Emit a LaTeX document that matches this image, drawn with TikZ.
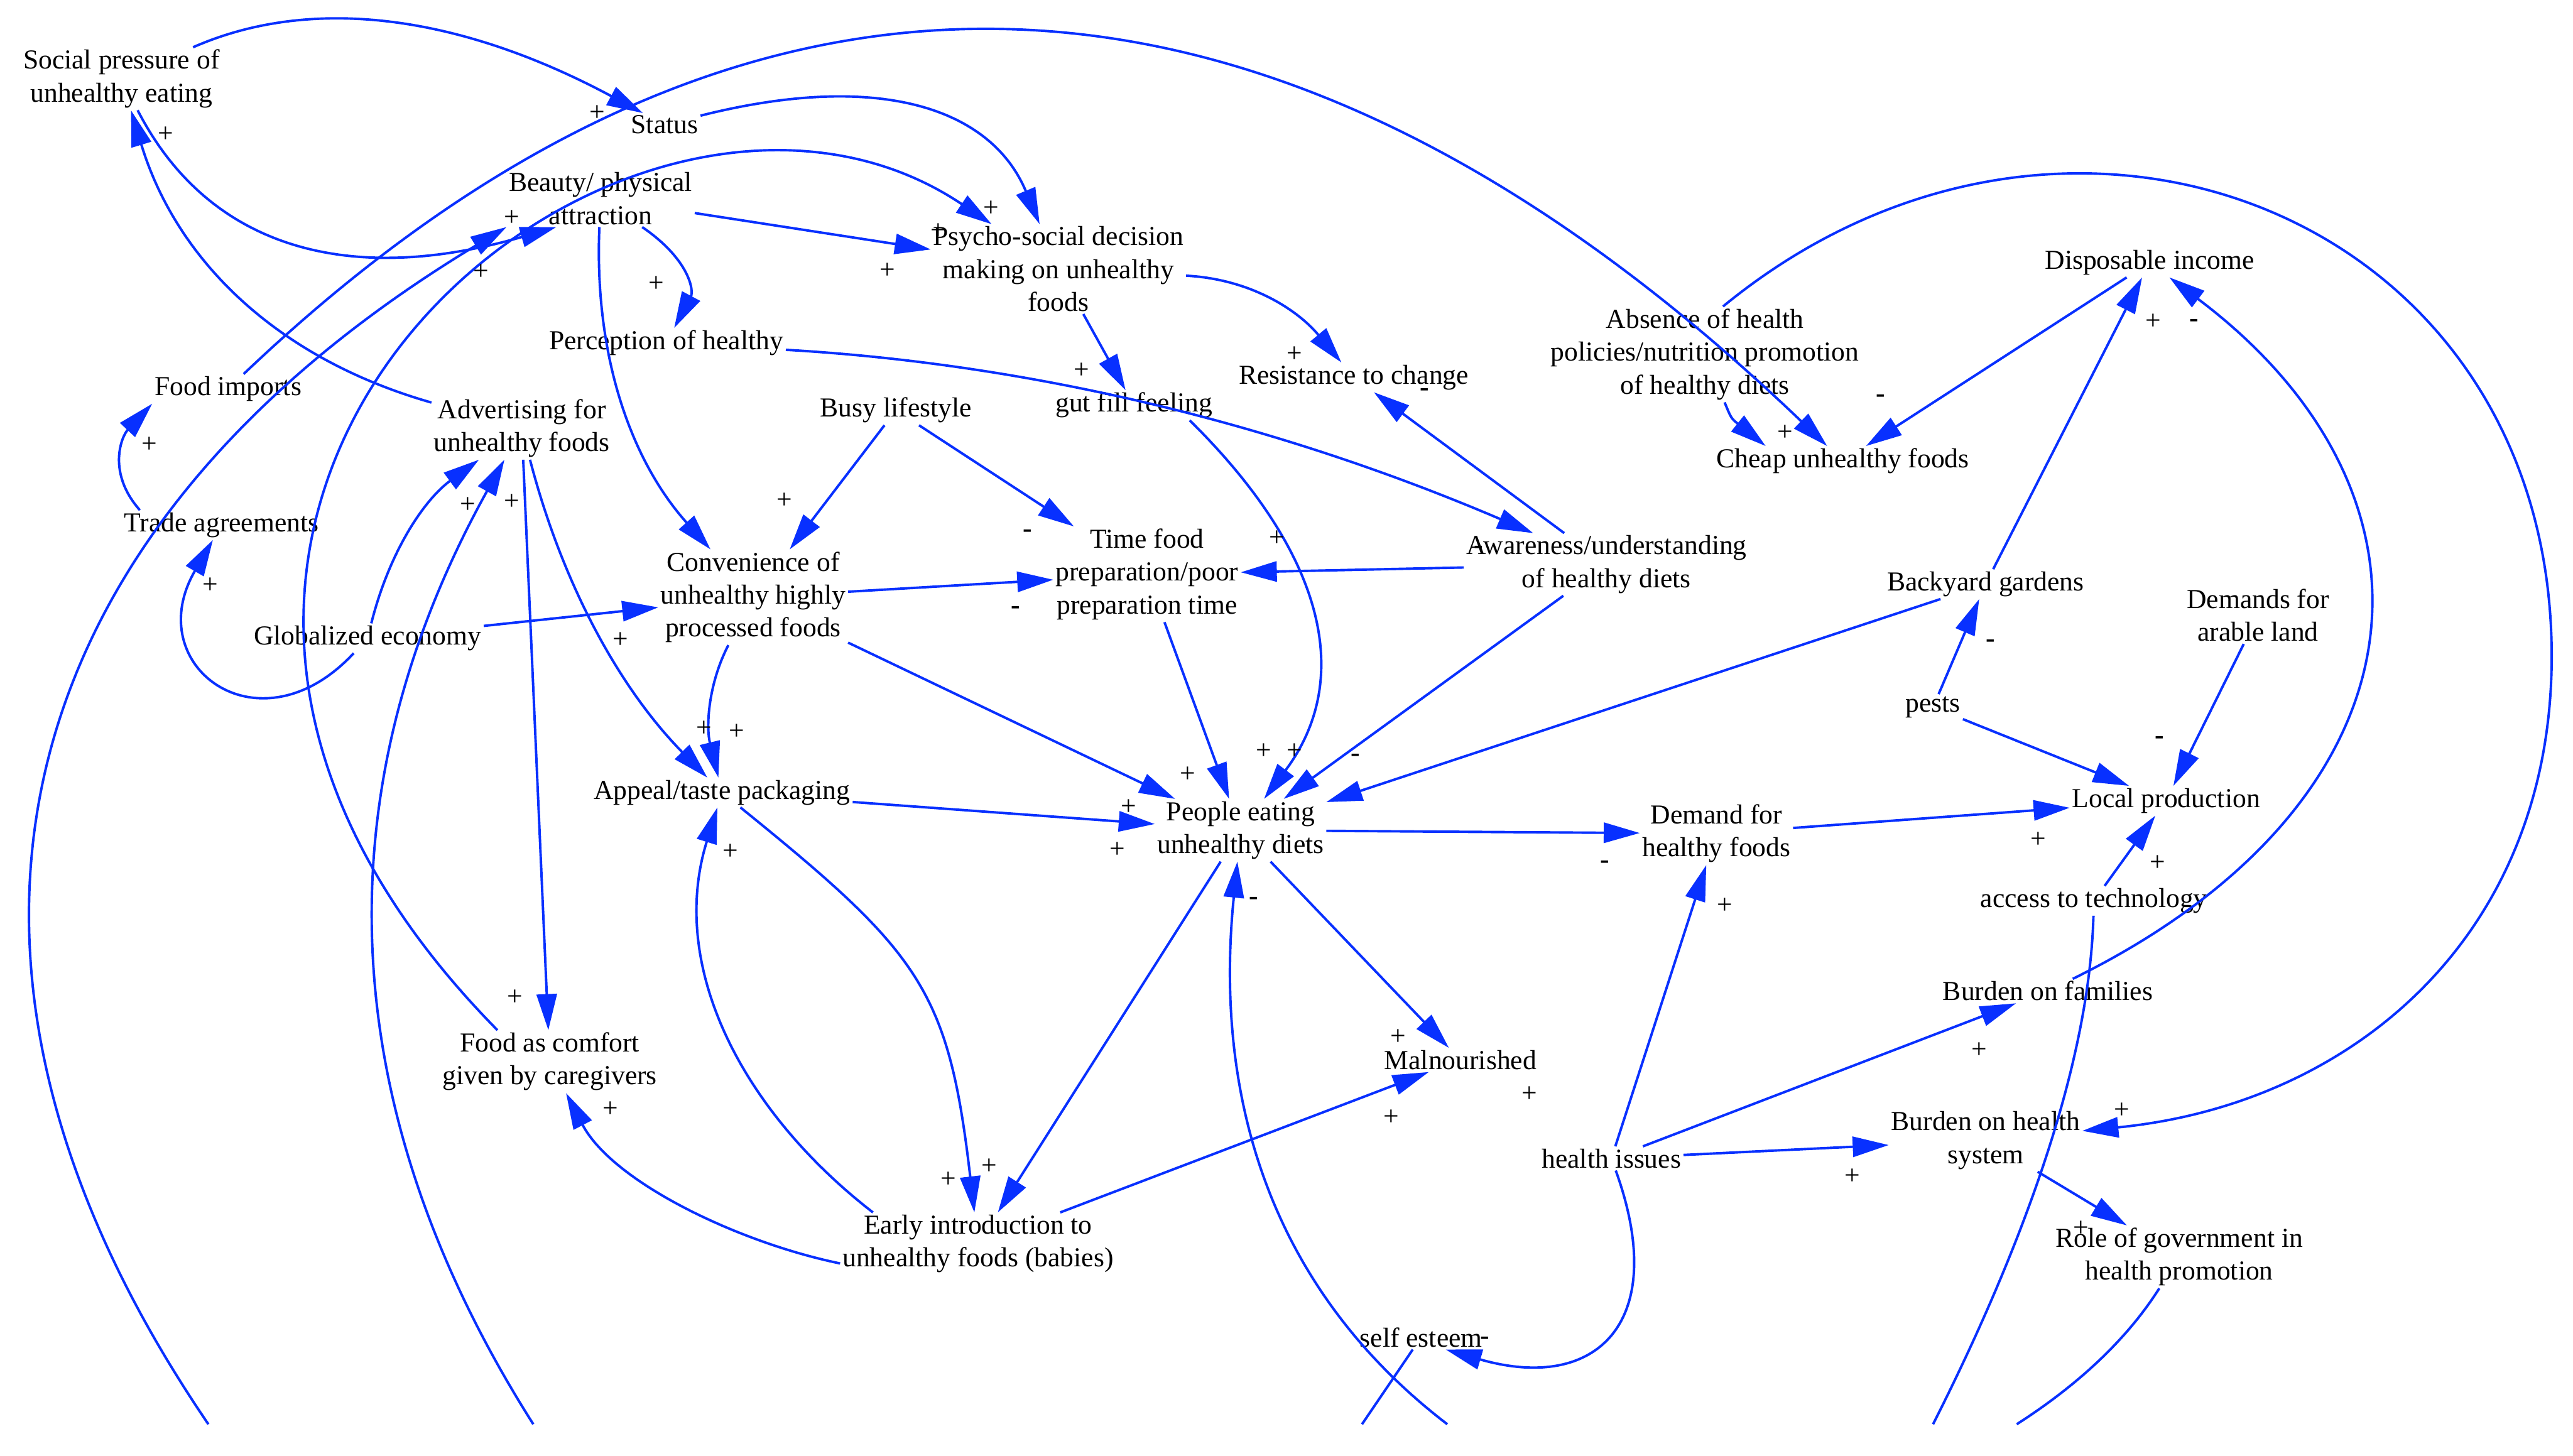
\documentclass[tikz,border=0pt]{standalone}
\usepackage{fontspec}
\setmainfont{Liberation Serif}
\usetikzlibrary{arrows.meta, calc}
\definecolor{linkblue}{RGB}{8,48,255}

\begin{document}
\begin{tikzpicture}[
    x=0.04cm,
    y=-0.04cm,
    font=\fontsize{19}{22.8}\selectfont,
    var/.style={
        align=center,
        inner sep=1.5pt
    },
    arr/.style={
        draw=linkblue,
        line width=1.7pt,
        -{Triangle[length=25pt,width=14pt]}
    },
    arrcut/.style={
        draw=linkblue,
        line width=1.7pt
    },
    sign/.style={
        inner sep=0pt
    }
]

\useasboundingbox (0,0) rectangle (1568,887);

\node[var] (sp) at (74,48) {Social pressure of\\unhealthy eating};
\node[var] (st) at (405,76) {Status};
\node[var] (bp) at (366,121) {Beauty/ physical\\attraction};
\node[var] (psd) at (645,164) {Psycho-social decision\\making on unhealthy\\foods};
\node[var] (ph) at (406,209) {Perception of healthy};
\node[var] (fi) at (139,237) {Food imports};
\node[var] (adv) at (318,261) {Advertising for\\unhealthy foods};
\node[var] (busy) at (546,250) {Busy lifestyle};
\node[var] (gut) at (691,247) {gut fill feeling};
\node[var] (rc) at (825,230) {Resistance to change};
\node[var] (abs) at (1039,216) {Absence of health\\policies/nutrition promotion\\of healthy diets};
\node[var] (di) at (1310,160) {Disposable income};
\node[var] (cuf) at (1123,281) {Cheap unhealthy foods};
\node[var] (ta) at (135,320) {Trade agreements};
\node[var] (conv) at (459,364) {Convenience of\\unhealthy highly\\processed foods};
\node[var] (tfp) at (699,350) {Time food\\preparation/poor\\preparation time};
\node[var] (aw) at (979,344) {Awareness/understanding\\of healthy diets};
\node[var] (bg) at (1210,356) {Backyard gardens};
\node[var] (dal) at (1376,375) {Demands for\\arable land};
\node[var] (ge) at (224,389) {Globalized economy};
\node[var] (pests) at (1178,431) {pests};
\node[var] (app) at (440,483) {Appeal/taste packaging};
\node[var] (peud) at (756,506) {People eating\\unhealthy diets};
\node[var] (dhf) at (1046,508) {Demand for\\healthy foods};
\node[var] (lp) at (1320,488) {Local production};
\node[var] (att) at (1276,549) {access to technology};
\node[var] (bof) at (1248,604) {Burden on families};
\node[var] (fcc) at (335,647) {Food as comfort\\given by caregivers};
\node[var] (mal) at (890,646) {Malnourished};
\node[var] (hi) at (982,706) {health issues};
\node[var] (bhs) at (1210,695) {Burden on health\\system};
\node[var] (rg) at (1328,766) {Role of government in\\health promotion};
\node[var] (ei) at (596,758) {Early introduction to\\unhealthy foods (babies)};
\node[var] (se) at (866,815) {self esteem};

\coordinate (cutA) at (127,868);
\coordinate (cutB) at (325,868);
\coordinate (cutC) at (830,868);
\coordinate (cutD) at (882,868);
\coordinate (cutE) at (1178,868);
\coordinate (cutF) at (1229,868);

\draw[arr] (bp) -- (psd);
\draw[arr] (psd) -- (gut);
\draw[arr] (busy) -- (conv);
\draw[arr] (busy) -- (tfp);
\draw[arr] (conv) -- (tfp);
\draw[arr] (conv) -- (peud);
\draw[arr] (tfp) -- (peud);
\draw[arr] (aw) -- (tfp);
\draw[arr] (aw) -- (peud);
\draw[arr] (aw) -- (rc);
\draw[arr] (bg) -- (peud);
\draw[arr] (app) -- (peud);
\draw[arr] (peud) -- (dhf);
\draw[arr] (peud) -- (mal);
\draw[arr] (peud) -- (ei);
\draw[arr] (ei) -- (mal);
\draw[arr] (dhf) -- (lp);
\draw[arr] (pests) -- (lp);
\draw[arr] (dal) -- (lp);
\draw[arr] (att) -- (lp);
\draw[arr] (pests) -- (bg);
\draw[arr] (bg) -- (di);
\draw[arr] (di) -- (cuf);
\draw[arr] (hi) -- (dhf);
\draw[arr] (hi) -- (bof);
\draw[arr] (hi) -- (bhs);
\draw[arr] (bhs) -- (rg);
\draw[arr] (adv) -- (fcc);
\draw[arr] (ge) -- (conv);
\draw[arrcut] (se) -- (cutC);

\draw[arr] (sp) .. controls (190,-3) and (280,9) .. (st);
\draw[arr] (sp) .. controls (127,151) and (212,175) .. ($(bp.south)+(-27,0)$);
\draw[arr] (adv) .. controls (167,218) and (107,157) .. (sp);
\draw[arr] (fi) .. controls (455,-64) and (777,-50) .. (cuf);
\draw[arr] (cutA) .. controls (-70,579) and (8,320) .. (bp.south west);
\draw[arr] (cutB) .. controls (202,674) and (196,481) .. (adv);
\draw[arr] (ge) .. controls (237,337) and (258,305) .. (adv);
\draw[arr] (ge) .. controls (158,460) and (85,406) .. (ta);
\draw[arr] ($(ta.north west)+(11,0)$) .. controls (65,288) and (74,266) .. (fi.south west);
\draw[arr] (bp) .. controls (420,158) and (423,177) .. (ph);
\draw[arr] (bp) .. controls (362,216) and (384,280) .. (conv);
\draw[arr] (st) .. controls (536,43) and (604,66) .. (psd);
\draw[arr] ($(fcc.north west)+(35,0)$) .. controls (-12,308) and (380,-14) .. (psd);
\draw[arr] ($(gut.south)+(34,0)$) .. controls (808,338) and (825,414) .. (peud);
\draw[arr] (ph) .. controls (631,222) and (780,259) .. (aw);
\draw[arr] (psd) .. controls (761,170) and (790,188) .. (rc);
\draw[arr] ($(abs.north)+(11,0)$) .. controls (1259,15) and (1555,130) .. (1555,400)
    .. controls (1555,570) and (1434,673) .. (bhs);
\draw[arr] (bof) .. controls (1482,489) and (1500,303) .. (di);
\draw[arr] (hi) .. controls (1018,806) and (973,849) .. ($(se.south)+(15,0)$);
\draw[arr] (cutD) .. controls (771,783) and (740,664) .. (peud);
\draw[arr] ($(ei.north west)+(20,0)$) .. controls (452,677) and (407,589) .. (app);
\draw[arr] (app) .. controls (561,581) and (578,603) .. (ei);
\draw[arr] ($(ei.west)+(0,12)$) .. controls (449,757) and (373,720) .. (fcc);
\draw[arr] (conv) .. controls (432,416) and (430,442) .. (app);
\draw[arr] (adv) .. controls (343,357) and (378,420) .. (app);
\draw[arr] (abs) .. controls (1055,255) .. ($(cuf.north)+(-47,0)$);
\draw[arrcut] (att) .. controls (1273,659) and (1223,779) .. (cutE);
\draw[arrcut] (rg) .. controls (1297,815) and (1268,843) .. (cutF);

\foreach \px/\py [count=\i] in {364/69, 101/82, 293/166, 312/133, 604/127, 572/141,
    541/165, 400/173, 659/226, 789/216, 91/271, 128/357, 285/308, 312/306, 478/305,
    778/328, 378/390, 429/444, 449/446, 445/519, 724/472, 770/458, 789/458, 688/492,
    681/518, 1051/552, 1088/264, 1312/196, 1242/512, 1315/526, 1206/640, 1293/677,
    1129/717, 1268/749, 852/632, 848/681, 932/667, 314/608, 372/676, 578/719, 603/711}
    \node[sign] (plus\i) at (\px,\py) {+};
\foreach \px/\py [count=\i] in {868/239, 626/325, 619/372, 901/335, 826/462, 764/549,
    978/527, 1146/243, 1337/197, 1213/392, 1316/451, 905/817}
    \node[sign] (minus\i) at (\px,\py) {\textbf{-}};

\end{tikzpicture}
\end{document}
